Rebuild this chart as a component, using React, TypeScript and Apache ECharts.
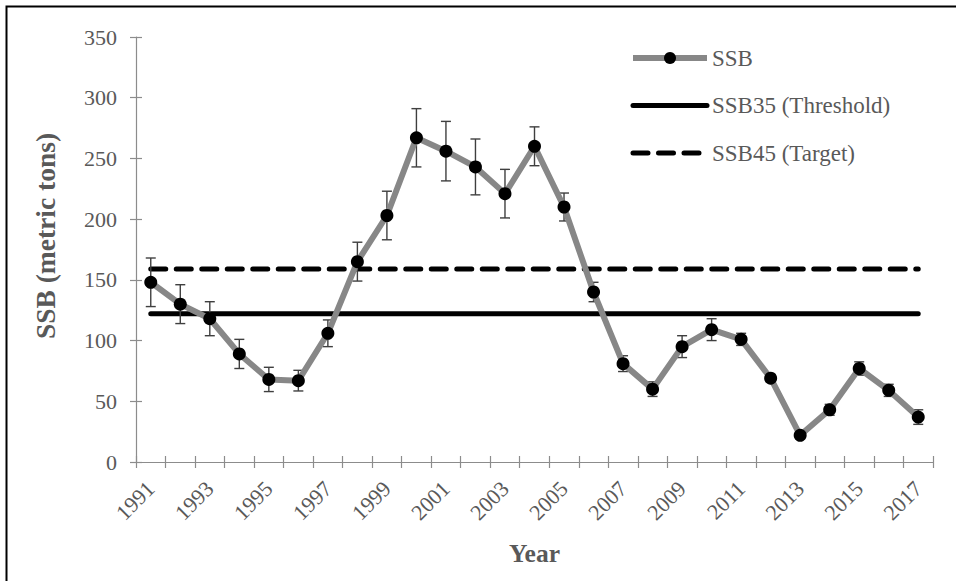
import React, { useEffect, useRef } from "react";
import * as echarts from "echarts";

const years = [
  "1991", "1992", "1993", "1994", "1995", "1996", "1997", "1998", "1999",
  "2000", "2001", "2002", "2003", "2004", "2005", "2006", "2007", "2008",
  "2009", "2010", "2011", "2012", "2013", "2014", "2015", "2016", "2017",
];
const ssb = [
  148, 130, 118, 89, 68, 67, 106, 165, 203, 267, 256, 243, 221, 260, 210,
  140, 81, 60, 95, 109, 101, 69, 22, 43, 77, 59, 37,
];
const ssbError = [
  20, 16, 14, 12, 10, 8.5, 11, 16, 20, 24, 24.5, 23, 20, 16, 11.5, 8, 6.5,
  6, 9, 9, 5, 3, 3, 4.5, 5.5, 5, 6,
];
const threshold = 122;
const target = 159;
const yTicks = { min: 0, max: 350, interval: 50 };

const FONT = "'Liberation Serif', 'Times New Roman', serif";
const TEXT = "#595959";
const AXIS = "#8c8c8c";

export default function App() {
  const ref = useRef<HTMLDivElement>(null);
  useEffect(() => {
    if (!ref.current) return;
    const chart = echarts.init(ref.current, undefined, { renderer: "svg" });
    const errData = ssb.map((v, i) => [i, v - ssbError[i], v + ssbError[i]]);
    chart.setOption({
      animation: false,
      backgroundColor: "#ffffff",
      textStyle: { fontFamily: FONT },
      graphic: [
        {
          type: "rect",
          shape: { x: 6.5, y: 6.5, width: 1200, height: 1200 },
          style: { fill: "none", stroke: "#000", lineWidth: 2 },
          silent: true,
        },
      ],
      grid: { left: 136, right: 23, top: 37, bottom: 119 },
      legend: {
        orient: "vertical",
        left: 625,
        top: 41.5,
        itemWidth: 74,
        itemHeight: 15,
        itemGap: 24.5,
        lineStyle: { width: "inherit" },
        data: [
          { name: "SSB" },
          { name: "SSB35 (Threshold)", itemStyle: { opacity: 0 } },
          { name: "SSB45 (Target)", itemStyle: { opacity: 0 } },
        ],
        textStyle: { color: TEXT, fontFamily: FONT, fontSize: 23, lineHeight: 23 },
      },
      xAxis: [
        {
          type: "category",
          data: years,
          boundaryGap: true,
          name: "Year",
          nameLocation: "middle",
          nameGap: 78,
          nameTextStyle: { color: TEXT, fontFamily: FONT, fontSize: 25.5, fontWeight: "bold" },
          axisLine: { show: true, lineStyle: { color: AXIS, width: 1.2 } },
          axisTick: { show: true, interval: 0, length: 6, lineStyle: { color: AXIS, width: 1.2 } },
          axisLabel: {
            interval: 1,
            rotate: 45,
            margin: 23,
            color: TEXT,
            fontFamily: FONT,
            fontSize: 22,
          },
          splitLine: { show: false },
        },
        {
          type: "category",
          data: years,
          boundaryGap: true,
          position: "bottom",
          axisLine: { show: false },
          axisTick: { show: true, inside: true, interval: 0, length: 6, lineStyle: { color: AXIS, width: 1.2 } },
          axisLabel: { show: false },
          splitLine: { show: false },
        },
      ],
      yAxis: [
        {
          type: "value",
          min: yTicks.min,
          max: yTicks.max,
          interval: yTicks.interval,
          name: "SSB (metric tons)",
          nameLocation: "middle",
          nameGap: 77,
          nameTextStyle: {
            color: TEXT,
            fontFamily: FONT,
            fontSize: 27.5,
            fontWeight: "bold",
            padding: [0, 0, 0, 27],
          },
          axisLine: { show: true, lineStyle: { color: AXIS, width: 1.2 } },
          axisTick: { show: true, length: 6, lineStyle: { color: AXIS, width: 1.2 } },
          axisLabel: { margin: 19, color: TEXT, fontFamily: FONT, fontSize: 22 },
          splitLine: { show: false },
        },
        {
          type: "value",
          min: yTicks.min,
          max: yTicks.max,
          interval: yTicks.interval,
          position: "left",
          axisLine: { show: false },
          axisTick: { show: true, inside: true, length: 6, lineStyle: { color: AXIS, width: 1.2 } },
          axisLabel: { show: false },
          splitLine: { show: false },
        },
      ],
      series: [
        {
          name: "SSB35 (Threshold)",
          type: "line",
          data: [[years[0], threshold], [years[years.length - 1], threshold]],
          symbol: "none",
          lineStyle: { color: "#000", width: 5, cap: "round" },
          itemStyle: { color: "#000" },
          z: 2,
        },
        {
          name: "SSB45 (Target)",
          type: "line",
          data: [[years[0], target], [years[years.length - 1], target]],
          symbol: "none",
          lineStyle: { color: "#000", width: 5, type: [15, 10.5], cap: "round" },
          itemStyle: { color: "#000" },
          z: 2,
        },
        {
          name: "err",
          type: "custom",
          data: errData,
          z: 3,
          renderItem: (params: any, api: any) => {
            const i = api.value(0);
            const lo = api.coord([i, api.value(1)]);
            const hi = api.coord([i, api.value(2)]);
            const hw = 5;
            const style = { stroke: "#3f3f3f", lineWidth: 1.4 };
            return {
              type: "group",
              children: [
                { type: "line", shape: { x1: lo[0], y1: lo[1], x2: hi[0], y2: hi[1] }, style },
                { type: "line", shape: { x1: lo[0] - hw, y1: lo[1], x2: lo[0] + hw, y2: lo[1] }, style },
                { type: "line", shape: { x1: hi[0] - hw, y1: hi[1], x2: hi[0] + hw, y2: hi[1] }, style },
              ],
            };
          },
        },
        {
          name: "SSB",
          type: "line",
          data: ssb,
          symbol: "circle",
          symbolSize: 13,
          lineStyle: { color: "#878787", width: 6 },
          itemStyle: { color: "#000" },
          z: 4,
        },
      ],
    });
    return () => chart.dispose();
  }, []);
  return (
    <div
      ref={ref}
      style={{ position: "fixed", left: 0, top: 0, width: 956, height: 581 }}
    />
  );
}
